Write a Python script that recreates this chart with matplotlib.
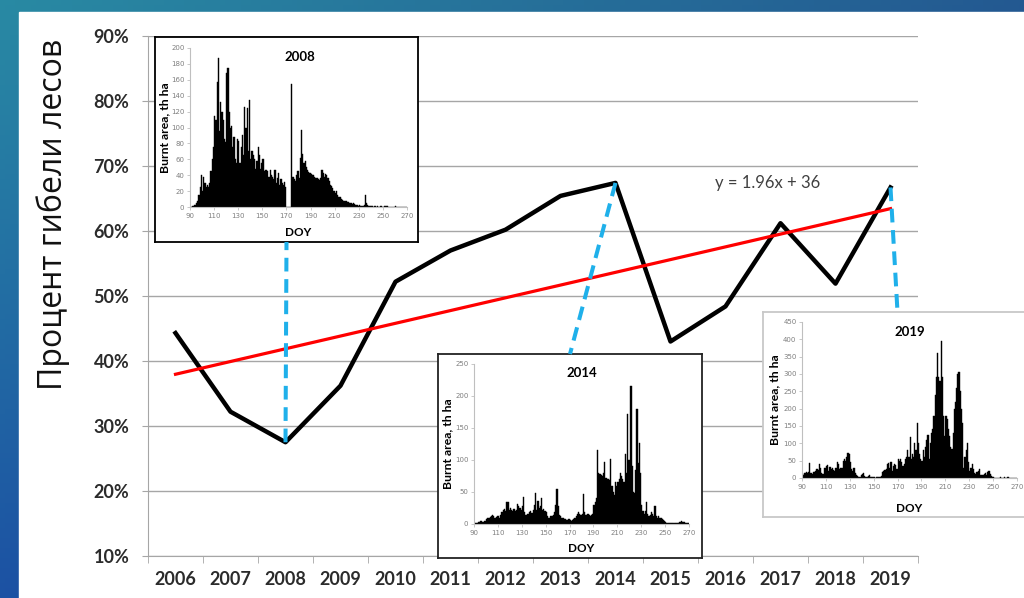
import numpy as np
import matplotlib
matplotlib.use('Agg')
import matplotlib.pyplot as plt
from matplotlib.patches import Rectangle, ConnectionPatch

# main series: forest loss share by year
years = [2006, 2007, 2008, 2009, 2010, 2011, 2012, 2013, 2014, 2015, 2016, 2017, 2018, 2019]
loss = [44.3, 32.2, 27.5, 36.2, 52.2, 57.0, 60.2, 65.4, 67.4, 43.0, 48.4, 61.2, 51.9, 66.7]
trend_slope = 1.96
trend_icpt = 36
trend_label = 'y = 1.96x + 36'
ylab = 'Процент гибели лесов'

# daily burnt area (th ha), DOY 90..270
doy = list(range(90, 271))
burn_2008 = [0, 0, 1, 2, 3, 5, 8, 15, 25, 40,
             20, 38, 30, 25, 28, 25, 30, 45, 60, 75,
             115, 110, 157, 187, 95, 132, 120, 110, 85, 82,
             168, 175, 120, 100, 102, 75, 88, 60, 55, 86,
             83, 55, 75, 90, 65, 126, 100, 125, 70, 135,
             60, 70, 65, 60, 48, 58, 75, 65, 48, 55,
             60, 45, 47, 46, 45, 38, 47, 40, 38, 35,
             46, 30, 36, 43, 28, 35, 30, 28, 32, 25,
             0, 0, 0, 0, 155, 38, 35, 33, 40, 45,
             36, 62, 97, 67, 55, 58, 50, 47, 44, 43,
             41, 40, 40, 38, 37, 36, 35, 34, 36, 46,
             43, 38, 42, 40, 36, 33, 28, 27, 24, 20,
             17, 20, 15, 13, 12, 10, 9, 8, 7, 7,
             6, 6, 5, 5, 4, 5, 4, 3, 2, 1,
             2, 1, 1, 1, 3, 15, 5, 2, 1, 1,
             1, 1, 0, 1, 0, 1, 0, 0, 1, 0,
             0, 1, 1, 1, 0, 0, 0, 0, 0, 0,
             1, 0, 0, 0, 0, 0, 0, 0, 0, 0, 0]
burn_2014 = [1, 2, 2, 3, 3, 4, 4, 3, 4, 5,
             8, 10, 9, 11, 13, 14, 12, 10, 11, 12,
             12, 10, 14, 18, 22, 24, 20, 34, 35, 22,
             25, 22, 20, 24, 20, 22, 32, 28, 25, 22,
             28, 42, 18, 14, 16, 15, 18, 20, 17, 22,
             30, 48, 22, 36, 25, 28, 40, 22, 24, 20,
             18, 12, 10, 10, 12, 12, 14, 18, 30, 55,
             28, 14, 12, 10, 9, 8, 8, 7, 6, 8,
             6, 5, 6, 8, 10, 12, 16, 18, 15, 14,
             16, 47, 18, 14, 14, 16, 14, 12, 14, 16,
             30, 35, 40, 115, 80, 78, 76, 75, 80, 97,
             72, 70, 70, 68, 102, 60, 50, 45, 65, 60,
             65, 70, 80, 75, 70, 65, 110, 80, 172, 100,
             100, 215, 90, 50, 48, 85, 180, 95, 127, 80,
             30, 20, 15, 20, 35, 15, 12, 14, 18, 15,
             12, 28, 12, 10, 12, 10, 10, 8, 6, 5,
             3, 2, 1, 2, 2, 2, 2, 2, 1, 2,
             2, 2, 3, 4, 3, 3, 3, 2, 2, 1, 1]
burn_2019 = [12, 10, 15, 18, 14, 16, 42, 15, 12, 18,
             16, 20, 25, 22, 40, 30, 15, 12, 30, 28,
             35, 38, 20, 32, 25, 30, 22, 20, 28, 45,
             40, 25, 28, 30, 50, 55, 48, 60, 73, 70,
             45, 25, 20, 28, 15, 8, 5, 4, 3, 8,
             12, 15, 5, 2, 3, 5, 8, 4, 3, 2,
             2, 1, 2, 3, 4, 3, 5, 18, 20, 22,
             25, 40, 42, 30, 45, 20, 35, 40, 38, 25,
             55, 50, 55, 45, 35, 40, 55, 60, 80, 60,
             117, 55, 70, 60, 100, 80, 160, 100, 70, 55,
             50, 80, 60, 90, 110, 125, 55, 100, 130, 140,
             180, 240, 290, 360, 290, 280, 395, 290, 180, 120,
             180, 170, 140, 120, 90, 85, 130, 200, 220, 260,
             300, 305, 250, 200, 160, 30, 60, 80, 100, 45,
             20, 30, 40, 25, 15, 12, 18, 20, 25, 10,
             8, 10, 12, 15, 10, 18, 20, 12, 5, 3,
             2, 1, 1, 1, 1, 1, 2, 1, 1, 2,
             1, 1, 2, 1, 1, 1, 1, 1, 1, 1, 1]

W, H = 1024, 598
fig = plt.figure(figsize=(W / 100, H / 100), dpi=100)


def px(x0, y0, x1, y1):
    """pixel box (top-left origin) -> figure rect"""
    return [x0 / W, 1 - y1 / H, (x1 - x0) / W, (y1 - y0) / H]


# slide background: blue gradient + white panel
bg = fig.add_axes([0, 0, 1, 1])
u = np.linspace(0, 1, 200)[None, :, None]
v = np.linspace(0, 1, 120)[:, None, None]
tl = np.array([0.16, 0.54, 0.64])
tr = np.array([0.14, 0.35, 0.57])
bl = np.array([0.11, 0.32, 0.64])
grad = np.clip(tl + (tr - tl) * u + (bl - tl) * v, 0, 1)
bg.imshow(grad, extent=[0, W, H, 0], aspect='auto')
bg.add_patch(Rectangle((19, 12), W, H, color='white'))
bg.set_xlim(0, W)
bg.set_ylim(H, 0)
bg.axis('off')

# main chart
ax = fig.add_axes(px(148, 36, 918, 556))
ax.patch.set_alpha(0)
x = np.arange(len(years))
ax.plot(x, loss, color='black', lw=3.2, zorder=3)
trend = [trend_slope * (i + 1) + trend_icpt for i in x]
ax.plot(x, trend, color='#ff0000', lw=2.3, zorder=4)
ax.set_xlim(-0.5, len(years) - 0.5)
ax.set_ylim(10, 90)
ax.set_yticks(range(10, 91, 10))
ax.set_yticklabels([f'{v}%' for v in range(10, 91, 10)])
ax.set_xticks(x)
ax.set_xticklabels([str(y) for y in years])
ax.set_xticks(np.arange(-0.5, len(years), 1), minor=True)
ax.yaxis.grid(True, color='#a6a6a6', lw=1)
ax.set_axisbelow(True)
for s in ['top', 'right']:
    ax.spines[s].set_visible(False)
for s in ['left', 'bottom']:
    ax.spines[s].set_color('#a6a6a6')
ax.tick_params(axis='x', which='major', length=0, pad=11)
ax.tick_params(axis='x', which='minor', length=5, color='#a6a6a6')
ax.tick_params(axis='y', length=4.5, color='#a6a6a6', pad=9)
for t in ax.get_xticklabels() + ax.get_yticklabels():
    t.set_family(['Lato', 'DejaVu Sans'])
    t.set_fontweight('bold')
    t.set_fontsize(13)
    t.set_color('#2b2b2b')

fig.text(53 / W, 1 - 214 / H, ylab, rotation=90, ha='center', va='center',
         fontsize=23, family=['Open Sans', 'DejaVu Sans'], color='#111111')
fig.text(768 / W, 1 - 183 / H, trend_label, ha='center', va='center',
         fontsize=12, family=['Lato', 'DejaVu Sans'], color='#404040')


def inset(box, inner, vals, ymax, ystep, title, edge, title_xy, ylab_x, doy_y):
    bx = fig.add_axes(px(*box))
    bx.set_xticks([])
    bx.set_yticks([])
    for s in bx.spines.values():
        s.set_color(edge)
        s.set_linewidth(1.3)
    hx = fig.add_axes(px(*inner))
    hx.bar(doy, vals, width=1.0, align='edge', color='black',
           edgecolor='black', linewidth=0.3)
    hx.set_xlim(90, 270)
    hx.set_ylim(0, ymax)
    hx.set_xticks(range(90, 271, 20))
    hx.set_yticks(range(0, ymax + 1, ystep))
    for s in ['top', 'right']:
        hx.spines[s].set_visible(False)
    for s in ['left', 'bottom']:
        hx.spines[s].set_color('#bfbfbf')
        hx.spines[s].set_linewidth(0.8)
    hx.tick_params(length=2, width=0.6, color='#bfbfbf', labelsize=5,
                   labelcolor='#7f7f7f', pad=2)
    hx.patch.set_alpha(0)
    fig.text(title_xy[0] / W, 1 - title_xy[1] / H, title, ha='center', va='center',
             fontsize=9.5, fontweight='bold', family=['Lato', 'DejaVu Sans'])
    yc = (inner[1] + inner[3]) / 2
    fig.text(ylab_x / W, 1 - yc / H, 'Burnt area, th ha', rotation=90, ha='center',
             va='center', fontsize=8.8, fontweight='bold', family=['Lato', 'DejaVu Sans'])
    xc = (inner[0] + inner[2]) / 2
    fig.text(xc / W, 1 - doy_y / H, 'DOY', ha='center', va='center',
             fontsize=8.5, fontweight='bold', family=['Lato', 'DejaVu Sans'])
    return bx


box08 = inset((155, 37, 418, 242), (190, 48, 407, 207), burn_2008, 200, 20, '2008',
              'black', (300, 57), 165, 232)
box14 = inset((438, 354, 702, 558), (474, 364, 689, 524), burn_2014, 250, 50, '2014',
              '#222222', (582, 373), 448, 549)
box19 = inset((763, 312, 1032, 517), (802, 322, 1017, 478), burn_2019, 450, 50, '2019',
              '#c8c8c8', (910, 332), 775, 508)

# dashed connectors from the year points to the insets
for idx, bx, yb in [(2, box08, 0), (8, box14, 1), (13, box19, 1)]:
    con = ConnectionPatch(xyA=(idx, loss[idx]), coordsA=ax.transData,
                          xyB=(0.5, yb), coordsB=bx.transAxes,
                          color='#1fb0ea', lw=2.9, linestyle=(0, (3.4, 1.9)),
                          capstyle='butt')
    fig.add_artist(con)

fig.savefig('out.png', dpi=100)
